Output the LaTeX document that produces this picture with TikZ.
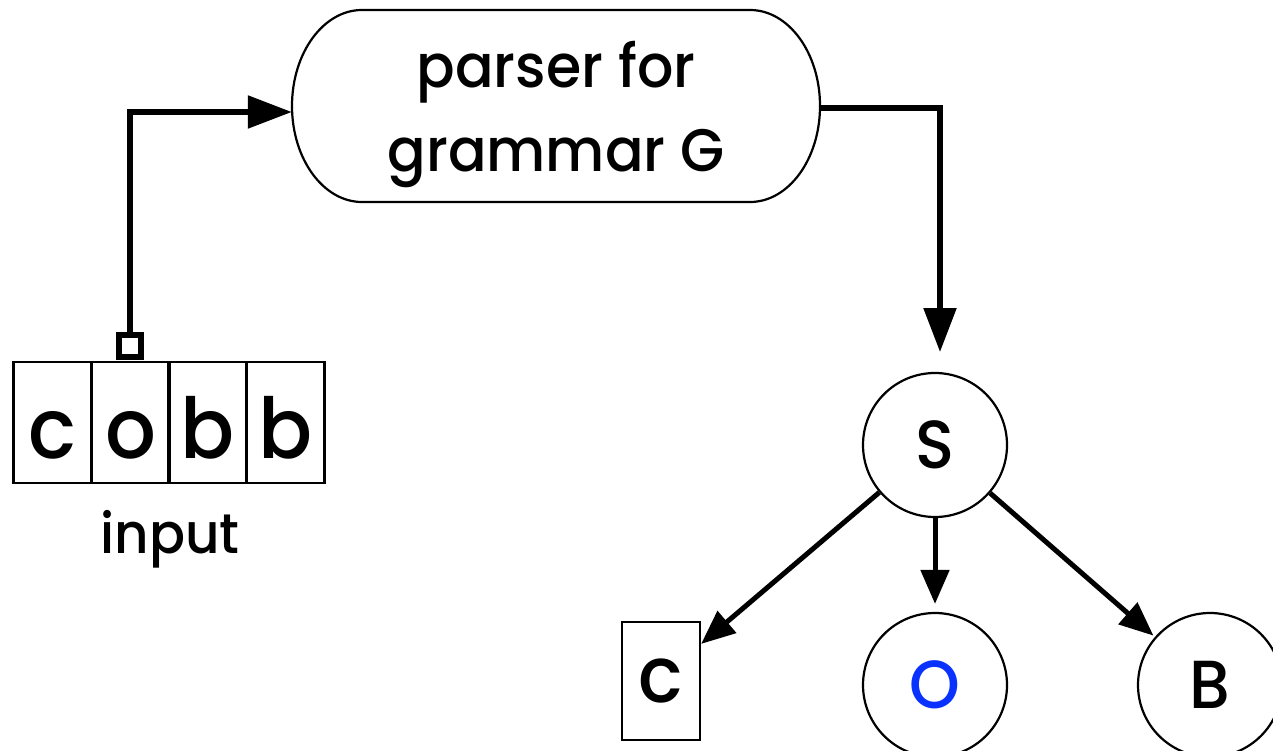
\documentclass[tikz,border=0pt]{standalone}
\usepackage{fontspec}
\setmainfont{Poppins Medium}[FakeStretch=0.95]
\usetikzlibrary{arrows.meta}
\definecolor{oblue}{RGB}{10,50,255}
\begin{document}
\begin{tikzpicture}[x=1pt,y=-1pt,
  conn/.style={line width=5.5pt,-{Triangle[length=44pt,width=32pt]}},
  tconn/.style={line width=5pt,-{Triangle[length=34pt,width=28pt]}},
  cell/.style={draw,line width=2.2pt,minimum width=78pt,minimum height=121pt,inner sep=0pt,
    text height=71pt,text depth=0pt,font=\fontsize{84}{84}\selectfont},
  tnode/.style={draw,circle,line width=2.2pt,minimum size=144pt,inner sep=0pt,
    font=\fontsize{68}{68}\selectfont},
  ptext/.style={anchor=base,inner sep=0pt,font=\fontsize{60}{60}\selectfont},
]
\useasboundingbox (0,0) rectangle (1273,751);
% parser
\node[minimum width=528pt,minimum height=192pt,inner sep=0pt] (P) at (556,106) {};
\draw[line width=2.2pt] (362,10) -- (750,10)
  arc[start angle=90,end angle=-90,x radius=70,y radius=-96] -- (362,202)
  arc[start angle=270,end angle=90,x radius=70,y radius=-96] -- cycle;
\node[ptext] (t1) at (556,88) {parser for};
\node[ptext] (t2) at (556,172) {grammar G};
% input tape
\node[cell] (c1) at (52.5,422.5) {c};
\node[cell] (c2) at (130.5,422.5) {o};
\node[cell] (c3) at (207.5,422.5) {b};
\node[cell] (c4) at (285.5,422.5) {b};
\node[anchor=base,inner sep=0pt,font=\fontsize{56}{56}\selectfont] (in) at (170,553) {input};
\node[draw,line width=6pt,fill=white,minimum size=22pt,inner sep=0pt] (sq) at (130,346) {};
\draw[conn] (sq.north) |- ([yshift=-6pt]P.west);
% tree
\coordinate (sin) at (940,352);
\draw[conn] ([yshift=-2pt]P.east) -| (sin);
\node[tnode] (S) at (935,445) {S};
\node[draw,line width=2.2pt,minimum width=78pt,minimum height=118pt,inner sep=0pt,
  font=\fontsize{78}{78}\selectfont] (cb) at (661,681) {c};
\node[tnode,text=oblue] (O) at (935,685) {O};
\node[tnode] (B) at (1210,685) {B};
\draw[tconn] (S) -- ([yshift=-23pt]cb.north east);
\draw[tconn,shorten >=8pt] (S) -- (O);
\draw[tconn,shorten >=2pt] (S) -- (B);
\end{tikzpicture}
\end{document}
